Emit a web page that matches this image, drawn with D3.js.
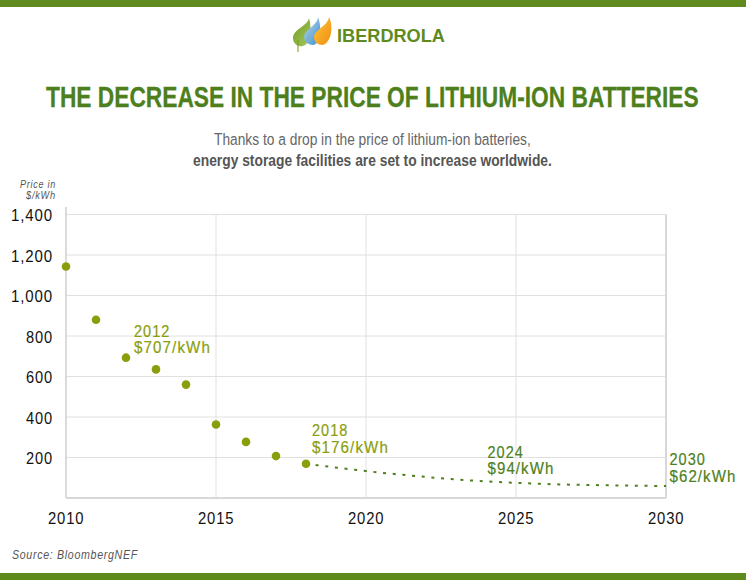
<!DOCTYPE html>
<html>
<head>
<meta charset="utf-8">
<script src="https://cdn.jsdelivr.net/npm/d3@7"></script>
<style>
  html, body { margin: 0; padding: 0; background: #fff; }
  svg { display: block; }
  text { font-family: "Liberation Sans", Arial, sans-serif; }
</style>
</head>
<body>
<div id="chart"></div>
<script>
// values
var histYears = [2010, 2011, 2012, 2013, 2014, 2015, 2016, 2017, 2018];
var histPrices = [1143, 880, 693, 635, 560, 363, 277, 207, 169];
var projYears = [2018, 2020, 2022, 2024, 2025, 2026, 2028, 2030];
var projPrices = [169, 133, 104, 82, 75, 69, 63, 59];
var xTicks = [2010, 2015, 2020, 2025, 2030];
var yTicks = [200, 400, 600, 800, 1000, 1200, 1400];
var calloutYears = ["2012", "2018", "2024", "2030"];
var calloutPrices = ["$707/kWh", "$176/kWh", "$94/kWh", "$62/kWh"];

var width = 746, height = 580;
var green = "#4d7f1c", olive = "#8a9e0c";
var svg = d3.select("#chart").append("svg")
  .attr("width", width).attr("height", height);

// squeeze a text to the measured width, the font has no condensed cut
var toFit = [];
function put(sel, str, x, y, size, w, color, spacing) {
  var t = sel.append("text")
    .attr("font-size", size).attr("fill", color)
    .attr("letter-spacing", spacing || 0)
    .text(str);
  toFit.push({t: t, x: x, y: y, w: w});
  return t;
}
// weight and style change the length, so measure once they are all set
function applyFits() {
  toFit.forEach(function (f) {
    var k = f.w / f.t.node().getComputedTextLength();
    f.t.attr("transform", "translate(" + f.x + "," + f.y + ") scale(" + k + ",1)");
  });
}

// top and bottom bands
svg.append("rect").attr("width", width).attr("height", 7).attr("fill", "#5f8a1e");
svg.append("rect").attr("y", 573).attr("width", width).attr("height", 7).attr("fill", "#5f8a1e");

// logo
var defs = svg.append("defs");
function grad(id, c1, c2) {
  var g = defs.append("linearGradient").attr("id", id)
    .attr("x1", 0).attr("y1", 0).attr("x2", 1).attr("y2", 1);
  g.append("stop").attr("offset", 0).attr("stop-color", c1);
  g.append("stop").attr("offset", 1).attr("stop-color", c2);
}
grad("leafG", "#6f9a22", "#a8c860");
grad("leafB", "#c4dcec", "#2f86cc");
grad("leafO", "#fbc83a", "#f28c12");
var logo = svg.append("g");
logo.append("path").attr("d", "M309 18C308 26 293 29 293 38C293 44 298 47 303 46C311 44 312 28 309 18Z").attr("fill", "url(#leafG)");
logo.append("path").attr("d", "M318 17C318 25 304 30 304 37C304 42 309 45 313 45C321 44 322 27 318 17Z").attr("fill", "url(#leafB)").attr("opacity", 0.95);
logo.append("path").attr("d", "M329 17C328 26 314 30 314 37C314 42 318 45 322 45C331 44 334 27 329 17Z").attr("fill", "url(#leafO)");
logo.append("line").attr("x1", 298).attr("y1", 40).attr("x2", 298).attr("y2", 52)
  .attr("stroke", "#6f9a22").attr("stroke-width", 1);
put(logo, "IBERDROLA", 337, 41.5, 17.5, 108, "#5f8a1e").attr("font-weight", "bold");

// heading
put(svg, "THE DECREASE IN THE PRICE OF LITHIUM-ION BATTERIES", 46, 107, 30, 653, green)
  .attr("font-weight", "bold").attr("stroke", green).attr("stroke-width", 0.3);
put(svg, "Thanks to a drop in the price of lithium-ion batteries,", 214, 145, 16.5, 317, "#666");
put(svg, "energy storage facilities are set to increase worldwide.", 193, 166, 16.5, 359, "#555")
  .attr("font-weight", "bold");

// scales
var x = d3.scaleLinear().domain([2010, 2030]).range([66, 666]);
var y = d3.scaleLinear().domain([0, 1400]).range([498, 214.5]);

// grid
svg.append("g").selectAll("line").data(yTicks).join("line")
  .attr("x1", x(2010)).attr("x2", x(2030))
  .attr("y1", d => y(d)).attr("y2", d => y(d))
  .attr("stroke", "#e0e0e0").attr("stroke-width", 1);
svg.append("g").selectAll("line").data(xTicks.slice(1, 4)).join("line")
  .attr("x1", d => x(d)).attr("x2", d => x(d))
  .attr("y1", y(1400)).attr("y2", y(0))
  .attr("stroke", "#e0e0e0").attr("stroke-width", 1);

// axis frame
svg.append("line").attr("x1", x(2010)).attr("x2", x(2010)).attr("y1", 207).attr("y2", y(0))
  .attr("stroke", "#cfcfcf").attr("stroke-width", 1.5);
svg.append("line").attr("x1", x(2030)).attr("x2", x(2030)).attr("y1", y(1400)).attr("y2", y(0))
  .attr("stroke", "#d8d8d8").attr("stroke-width", 2);
svg.append("line").attr("x1", x(2010)).attr("x2", x(2030)).attr("y1", y(0)).attr("y2", y(0))
  .attr("stroke", "#d8d8d8").attr("stroke-width", 2);

// tick labels
var fmt = d3.format(",");
yTicks.forEach(function (d) {
  var w = d >= 1000 ? 42 : 27;
  put(svg, fmt(d), 53 - w, y(d) + 6.5, 17, w, "#111", 1);
});
xTicks.forEach(function (d) {
  put(svg, d, x(d) - 18, 524, 17, 36.5, "#111", 1);
});

// axis title
put(svg, "Price in", 20, 187.5, 10, 36, "#555", 0.8).attr("font-style", "italic");
put(svg, "$/kWh", 26, 198.7, 10, 30, "#555", 0.8).attr("font-style", "italic");

// projection
var line = d3.line().x(d => x(d[0])).y(d => y(d[1])).curve(d3.curveMonotoneX);
svg.append("path").datum(d3.zip(projYears, projPrices))
  .attr("d", line).attr("fill", "none")
  .attr("stroke", green).attr("stroke-width", 2).attr("stroke-dasharray", "3 6.7");

// history
svg.append("g").selectAll("circle").data(d3.zip(histYears, histPrices)).join("circle")
  .attr("cx", d => x(d[0])).attr("cy", d => y(d[1])).attr("r", 4.3)
  .attr("fill", olive);

// callouts, placed by hand next to their points
var calloutX = [134, 312, 487.5, 669.5];
var calloutY = [336.5, 436, 457.5, 465];
var calloutW = [77, 77, 67, 67];
var calloutColor = [olive, olive, green, green];
calloutYears.forEach(function (yr, i) {
  put(svg, yr, calloutX[i], calloutY[i], 16.5, 36.5, calloutColor[i], 1.2)
    .attr("stroke", calloutColor[i]).attr("stroke-width", 0.2);
  put(svg, calloutPrices[i], calloutX[i], calloutY[i] + 16.7, 16.5, calloutW[i], calloutColor[i], 1.2)
    .attr("stroke", calloutColor[i]).attr("stroke-width", 0.2);
});

// source
put(svg, "Source: BloombergNEF", 12, 559, 12.5, 126, "#555", 0.8).attr("font-style", "italic");

applyFits();
</script>
</body>
</html>
